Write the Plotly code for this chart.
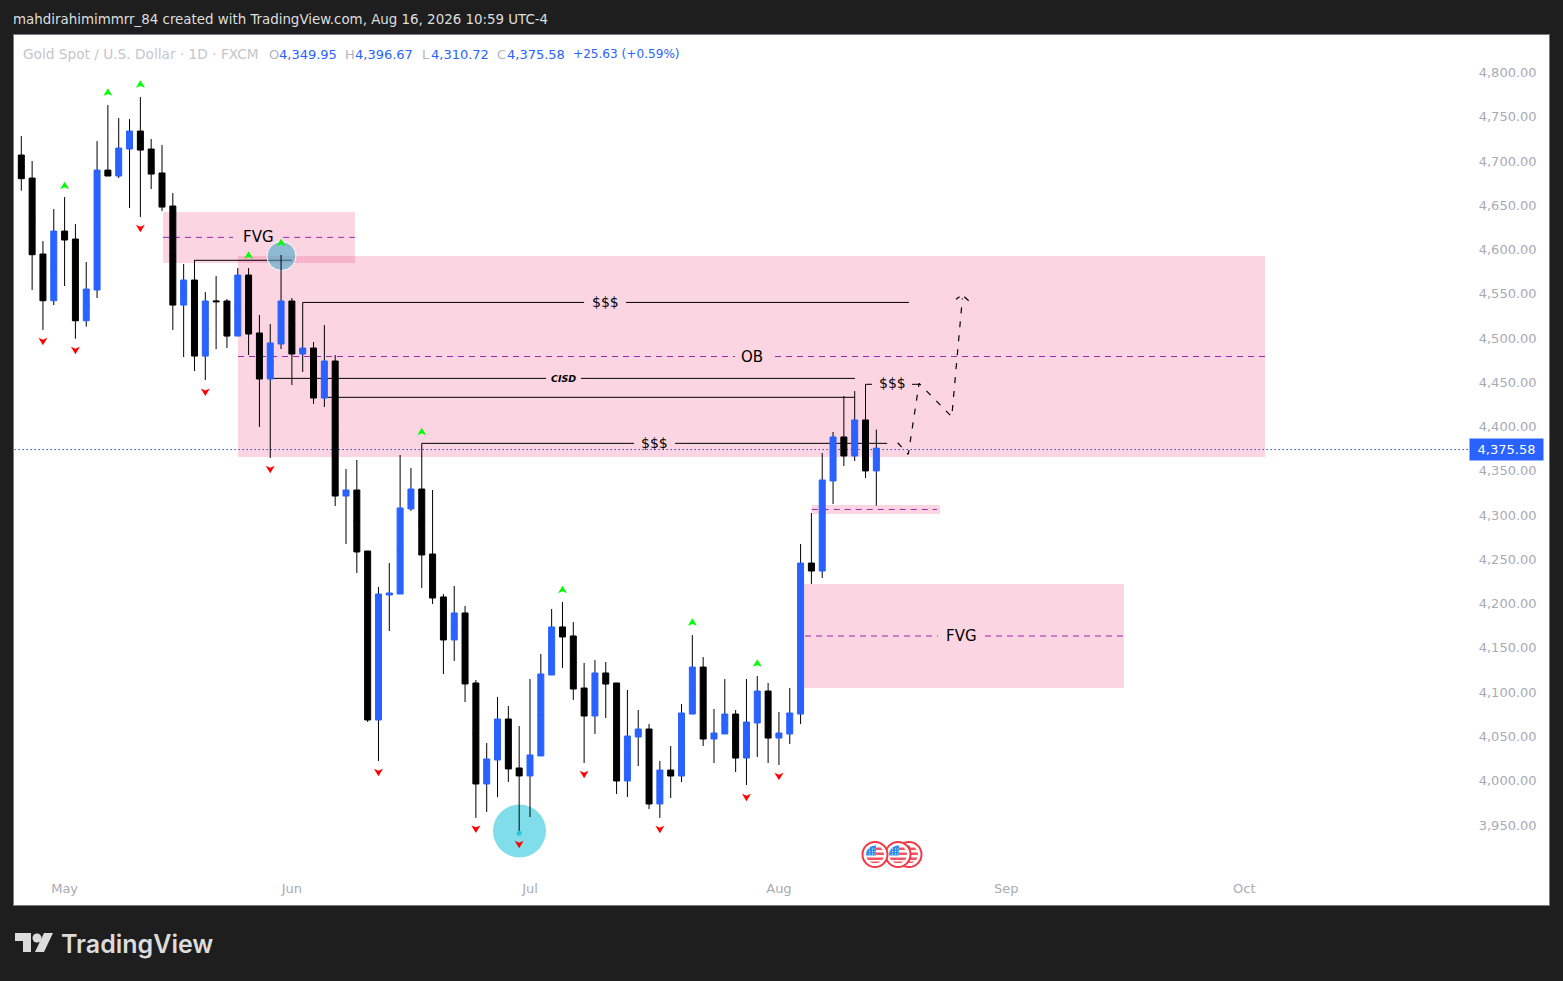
import plotly.graph_objects as go

W, H = 1563, 981

opens = [4689.8, 4706.8, 4680.8, 4595.0, 4542.2, 4620.9, 4611.9, 4519.6, 4554.3, 4689.8,
         4683.1, 4713.6, 4733.9, 4713.6, 4686.5, 4649.2, 4537.3, 4565.6, 4479.7, 4541.9,
         4541.9, 4502.3, 4571.2, 4505.8, 4453.8, 4493.3, 4541.9, 4482.0, 4488.8, 4432.3,
         4474.1, 4321.6, 4328.4, 4259.5, 4068.6, 4209.8, 4210.9, 4307.0, 4329.5, 4256.1,
         4207.6, 4159.0, 4189.5, 4110.4, 3996.3, 4023.4, 4069.7, 4014.4, 4005.4, 4028.0,
         4119.4, 4173.7, 4163.5, 4104.7, 4073.1, 4121.7, 4110.4, 3999.7, 4049.4, 4058.4,
         3973.7, 4012.1, 4005.3, 4075.3, 4128.4, 4047.1, 4052.8, 4075.3, 4025.6, 4065.2,
         4101.3, 4048.2, 4052.8, 4075.3, 4245.9, 4236.9, 4338.6, 4388.3, 4366.8, 4407.5,
         4349.95]
highs = [4722.0, 4728.2, 4700.0, 4609.6, 4645.8, 4659.3, 4628.8, 4585.9, 4722.6, 4763.3,
         4748.6, 4747.4, 4772.3, 4724.9, 4718.1, 4663.9, 4583.7, 4588.2, 4552.0, 4570.1,
         4544.1, 4579.1, 4579.1, 4526.1, 4515.9, 4593.9, 4545.3, 4540.4, 4495.6, 4514.8,
         4480.9, 4352.1, 4362.3, 4259.5, 4218.8, 4246.0, 4368.0, 4353.3, 4381.1, 4328.4,
         4210.9, 4220.0, 4197.4, 4113.8, 4042.6, 4094.6, 4084.4, 4061.8, 4114.9, 4143.2,
         4194.0, 4201.9, 4179.3, 4133.0, 4136.3, 4134.1, 4110.4, 4102.5, 4079.9, 4064.0,
         4022.3, 4039.2, 4086.6, 4164.6, 4139.7, 4081.0, 4114.9, 4079.9, 4114.9, 4118.3,
         4110.4, 4077.6, 4104.7, 4267.4, 4302.4, 4370.2, 4393.9, 4434.6, 4440.2, 4448.1,
         4396.67]
lows = [4672.0, 4666.5, 4554.3, 4509.1, 4537.3, 4558.8, 4499.3, 4512.9, 4545.3, 4683.1,
        4680.8, 4646.9, 4636.7, 4668.4, 4643.5, 4509.1, 4478.6, 4462.8, 4452.6, 4487.6,
        4488.8, 4502.3, 4480.9, 4399.6, 4364.6, 4487.7, 4447.0, 4461.7, 4425.6, 4422.2,
        4310.3, 4267.4, 4234.7, 4066.4, 4022.3, 4169.1, 4210.9, 4304.7, 4217.7, 4199.6,
        4120.6, 4135.3, 4088.9, 3957.9, 3964.7, 3981.6, 3998.6, 3940.6, 3959.0, 4028.0,
        4119.4, 4127.4, 4091.2, 4020.0, 4052.8, 4070.8, 3985.0, 3981.6, 4016.6, 3968.0,
        3957.9, 3980.5, 3998.5, 4075.3, 4039.2, 4020.0, 4052.8, 4009.8, 3995.1, 4026.8,
        4020.0, 4017.7, 4041.5, 4064.0, 4222.2, 4229.0, 4312.6, 4355.5, 4361.1, 4341.9,
        4310.72]
closes = [4706.8, 4680.1, 4594.2, 4542.2, 4620.9, 4610.8, 4519.6, 4555.4, 4689.8, 4683.1,
          4714.7, 4733.9, 4712.4, 4685.3, 4648.0, 4537.3, 4565.6, 4479.7, 4541.9, 4541.1,
          4502.3, 4571.2, 4504.6, 4453.8, 4494.5, 4541.9, 4482.0, 4488.8, 4432.3, 4474.1,
          4321.6, 4328.4, 4258.4, 4068.6, 4210.9, 4212.1, 4308.1, 4329.5, 4255.0, 4206.4,
          4159.0, 4189.5, 4109.3, 3996.3, 4024.6, 4069.7, 4013.3, 4005.4, 4029.1, 4120.6,
          4173.7, 4162.4, 4103.6, 4073.1, 4121.7, 4109.2, 3999.7, 4050.5, 4058.4, 3973.7,
          4012.1, 4005.3, 4076.5, 4128.4, 4047.1, 4053.9, 4075.3, 4025.6, 4066.3, 4101.3,
          4048.2, 4053.9, 4076.5, 4245.9, 4236.9, 4339.7, 4388.3, 4366.8, 4407.5, 4349.95,
          4375.58]
bars = list(range(len(opens)))

month_bars = [5, 26, 48, 71, 92, 114]
month_names = ["May", "Jun", "Jul", "Aug", "Sep", "Oct"]
price_ticks = [3950, 4000, 4050, 4100, 4150, 4200, 4250, 4300, 4350, 4400,
               4450, 4500, 4550, 4600, 4650, 4700, 4750, 4800]
last_close = 4375.58

up_bars = [5, 9, 12, 22, 25, 38, 51, 63, 69]
up_prices = [4672.1, 4777.6, 4786.7, 4593.5, 4607.7, 4394.2, 4215.8, 4178.9, 4132.6]
down_bars = [3, 6, 12, 18, 24, 34, 43, 47, 53, 60, 68, 71]
down_prices = [4496.4, 4486.2, 4624.0, 4439.1, 4351.8, 4009.5, 3945.5, 3928.2,
               4007.2, 3945.1, 3981.3, 4005.0]

# pink zones: left bar, right bar, top price, bottom price
zones = [
    (14.09, 31.83, 4642.4, 4584.8),
    (21.02, 115.91, 4592.7, 4365.7),
    (74.03, 85.88, 4311.4, 4301.3),
    (72.95, 102.88, 4222.2, 4104.7),
]
# dashed mid lines: start bar, end bar, price
mid_lines = [
    (14.09, 20.56, 4613.8), (25.2, 31.83, 4613.8),
    (21.02, 66.94, 4479.2), (70.64, 115.91, 4479.2),
    (74.03, 85.6, 4306.4),
    (73.41, 85.7, 4163.5), (90.04, 102.88, 4163.5),
]
# black level lines: start bar, end bar, price
level_lines = [
    (17, 26.01, 4587.9),
    (27, 53.0, 4540.3), (56.87, 83.02, 4540.3),
    (24, 49.48, 4454.5), (52.71, 78.03, 4454.5),
    (29, 78, 4433.1),
    (38, 57.61, 4381.1), (61.4, 81, 4381.1),
    (79, 79.6, 4447.8), (83.3, 84.04, 4447.8),
]
path_bars = [81.97, 82.95, 83.95, 86.97, 87.95]
path_prices = [4381.8, 4368.7, 4448.9, 4411.2, 4544.9]
head_bars = [87.36, 87.69, None, 88.13, 88.53]
head_prices = [4543.8, 4546.7, None, 4546.7, 4542.2]

labels = [
    ("FVG", 22.92, 4613.8, 15),
    ("$$$", 54.93, 4540.3, 14),
    ("OB", 68.52, 4479.2, 15),
    ("<b><i>CISD</i></b>", 51.1, 4454.5, 9.5),
    ("$$$", 81.45, 4449.0, 14),
    ("$$$", 59.46, 4381.1, 14),
    ("FVG", 87.83, 4163.5, 15),
]

legend_parts = [
    ("O", 269, "#b2b5be", 13), ("4,349.95", 279, "#2962ff", 13),
    ("H", 345, "#b2b5be", 13), ("4,396.67", 355, "#2962ff", 13),
    ("L", 422, "#b2b5be", 13), ("4,310.72", 431, "#2962ff", 13),
    ("C", 497, "#b2b5be", 13), ("4,375.58", 507, "#2962ff", 13),
    ("+25.63 (+0.59%)", 573, "#2962ff", 12.1),
]

DARK = "#1e1e1e"
FONT = "DejaVu Sans"
GRAY = "#a8abb4"
PINK = "rgba(233,30,99,0.19)"
PURPLE = "#9c27b0"


def px(x):
    return x / W


def py(y):
    return 1 - y / H


def poly(points):
    return "M " + " L ".join(f"{px(x):.5f},{py(y):.5f}" for x, y in points) + " Z"


def chrome_shape(points, color):
    return dict(type="path", xref="paper", yref="paper", path=poly(points),
                fillcolor=color, line=dict(width=0), layer="above")


def chevron(bar, price, path, color):
    return dict(type="path", xref="x", yref="y", xsizemode="pixel", ysizemode="pixel",
                xanchor=bar, yanchor=price, path=path,
                fillcolor=color, line=dict(width=0), layer="above")


def flag_shapes(cx, cy):
    r = 12.5
    out = [dict(type="circle", xref="paper", yref="paper", layer="above",
                x0=px(cx - r), x1=px(cx + r), y0=py(cy + r), y1=py(cy - r),
                fillcolor="#ffffff", line=dict(color="#f23645", width=2))]
    inner = 9.0

    def half(dy):
        return max(inner ** 2 - dy ** 2, 0) ** 0.5

    # red stripes
    for top, bottom, left in [(-7, -4.5, 1), (-2, 0.5, 1), (3, 5.5, -9), (7, 8.5, -9)]:
        out.append(chrome_shape(
            [(max(cx + left, cx - half(top)), cy + top), (cx + half(top), cy + top),
             (cx + half(bottom), cy + bottom), (max(cx + left, cx - half(bottom)), cy + bottom)],
            "#f7525f"))
    # blue corner
    corner = [(cx + 1, cy + 1), (cx - half(1), cy + 1), (cx - 8.6, cy - 2.5),
              (cx - 7, cy - 5.6), (cx - 4.5, cy - 7.8), (cx - 1, cy - 8.9), (cx + 1, cy - 8.9)]
    out.append(chrome_shape(corner, "#2f8fe8"))
    for dx in (-6, -3, -0.5):
        for dy in (-6, -3.5, -1):
            out.append(chrome_shape(
                [(cx + dx, cy + dy), (cx + dx + 1, cy + dy), (cx + dx + 1, cy + dy + 1),
                 (cx + dx, cy + dy + 1)], "#e6f1fc"))
    return out


fig = go.Figure()

# wick layer: its flat body sits mid candle, hidden under the body layer
mids = [(a + b) / 2 for a, b in zip(opens, closes)]
fig.add_trace(go.Candlestick(
    x=bars, open=mids, high=highs, low=lows, close=mids, whiskerwidth=0,
    increasing=dict(line=dict(color="#000000", width=1), fillcolor="#000000"),
    decreasing=dict(line=dict(color="#000000", width=1), fillcolor="#000000"),
    showlegend=False,
))
fig.add_trace(go.Candlestick(
    x=bars, open=opens, close=closes,
    high=[max(a, b) for a, b in zip(opens, closes)],
    low=[min(a, b) for a, b in zip(opens, closes)],
    whiskerwidth=0,
    increasing=dict(line=dict(color="#2962ff", width=1), fillcolor="#2962ff"),
    decreasing=dict(line=dict(color="#000000", width=1), fillcolor="#000000"),
    showlegend=False,
))

fig.add_trace(go.Scatter(
    x=[47], y=[3940.6], mode="markers", showlegend=False,
    marker=dict(color="#26c6da", size=5),
))
fig.add_trace(go.Scatter(
    x=path_bars, y=path_prices, mode="lines", showlegend=False,
    line=dict(color="#000000", width=1.2, dash="6px,8px"),
))
fig.add_trace(go.Scatter(
    x=head_bars, y=head_prices, mode="lines", showlegend=False, connectgaps=False,
    line=dict(color="#000000", width=1.2),
))

shapes = []
for x0, x1, top, bottom in zones:
    shapes.append(dict(type="rect", xref="x", yref="y", x0=x0, x1=x1, y0=bottom, y1=top,
                       fillcolor=PINK, line=dict(width=0), layer="below"))
shapes.append(dict(type="line", xref="x", yref="y", ysizemode="pixel", yanchor=last_close,
                   x0=0, x1=134.9, y0=-1.3, y1=-1.3,
                   line=dict(color="#1e4fe0", width=1, dash="1.5px,2.5px"), layer="below"))
for x0, x1, price in mid_lines:
    shapes.append(dict(type="line", xref="x", yref="y", x0=x0, x1=x1, y0=price, y1=price,
                       line=dict(color=PURPLE, width=1, dash="6px,5px"), layer="below"))
for x0, x1, price in level_lines:
    shapes.append(dict(type="line", xref="x", yref="y", x0=x0, x1=x1, y0=price, y1=price,
                       line=dict(color="#000000", width=1), layer="below"))
# highlight circles
shapes.append(dict(type="circle", xref="x", yref="y", x0=44.58, x1=49.48, y0=3913.3, y1=3973.1,
                   fillcolor="#80deea", line=dict(width=0), layer="below"))
shapes.append(dict(type="circle", xref="x", yref="y", x0=23.7, x1=26.38, y0=4576.3, y1=4609.1,
                   fillcolor="rgba(70,170,200,0.6)", line=dict(color="#ffffff", width=1),
                   layer="below"))

# arrow marks above and below the swing bars
for bar, price in zip(up_bars, up_prices):
    shapes.append(chevron(bar, price, "M 0,4 L 4.5,-3.5 L 0,-1.6 L -4.5,-3.5 Z", "#00ff00"))
for bar, price in zip(down_bars, down_prices):
    shapes.append(chevron(bar, price, "M 0,-4 L 4.5,3.5 L 0,1.6 L -4.5,3.5 Z", "#ff0000"))

# news flags, back to front
for cx in (909, 898, 875):
    shapes += flag_shapes(cx, 854.5)

# TradingView logo
shapes.append(chrome_shape([(15, 933), (31, 933), (31, 952), (23, 952), (23, 941), (15, 941)], "#dcdcdc"))
shapes.append(dict(type="circle", xref="paper", yref="paper", x0=px(32.5), x1=px(41.5),
                   y0=py(942.5), y1=py(933.5), fillcolor="#dcdcdc", line=dict(width=0), layer="above"))
shapes.append(chrome_shape([(44, 933), (53, 933), (44, 952), (35, 952)], "#dcdcdc"))

annotations = []
for text, bar, price, size in labels:
    annotations.append(dict(x=bar, y=price, xref="x", yref="y", text=text, showarrow=False,
                            font=dict(family=FONT, size=size, color="#000000")))


def chrome_text(text, x, y, size, color, family=FONT, weight="normal"):
    annotations.append(dict(x=px(x - 2), y=py(y), xref="paper", yref="paper", text=text,
                            showarrow=False, xanchor="left", yanchor="middle",
                            font=dict(family=family, size=size, color=color, weight=weight)))


chrome_text("mahdirahimimmrr_84 created with TradingView.com, Aug 16, 2026 10:59 UTC-4",
            13, 19, 14.9, "#dedede", "DejaVu Sans Condensed")
chrome_text("Gold Spot / U.S. Dollar · 1D · FXCM", 23, 54, 13.7, "#c4c6cc")
for text, x, color, size in legend_parts:
    chrome_text(text, x, 54, size, color)
chrome_text("TradingView", 61, 944, 25, "#dcdcdc", "Inter", 600)

annotations.append(dict(x=px(1544), y=last_close, xref="paper", yref="y", yshift=-1,
                        text="4,375.58", showarrow=False, xanchor="right", yanchor="middle",
                        width=71, height=19, align="center", bgcolor="#2962ff",
                        font=dict(family=FONT, size=13, color="#ffffff")))

fig.update_layout(
    width=W, height=H,
    margin=dict(l=0, r=0, t=0, b=0),
    paper_bgcolor=DARK, plot_bgcolor="#ffffff",
    boxmode="overlay", boxgap=0.446, boxgroupgap=0,
    showlegend=False,
    shapes=shapes, annotations=annotations,
    xaxis=dict(
        domain=[px(14), px(1549)], range=[0.325, 142.15],
        rangeslider=dict(visible=False),
        tickmode="array", tickvals=month_bars, ticktext=month_names,
        ticks="", showgrid=False, zeroline=False,
        ticklabelposition="inside", ticklabelstandoff=9,
        tickfont=dict(family=FONT, size=13, color=GRAY),
        showline=True, mirror=True, linecolor="#787b86", linewidth=1,
    ),
    yaxis=dict(
        domain=[py(905), py(35)], range=[3859.6, 4842.4],
        side="right", tickmode="array", tickvals=price_ticks, tickformat=",.2f",
        ticks="", showgrid=False, zeroline=False,
        ticklabelposition="inside", ticklabelstandoff=12,
        tickfont=dict(family=FONT, size=13, color=GRAY),
        showline=True, mirror=True, linecolor="#787b86", linewidth=1,
    ),
)

fig.write_html(
    "out.html",
    config={"displayModeBar": False},
    post_script="document.body.style.margin='0';document.body.style.background='#1e1e1e';document.documentElement.style.overflow='hidden';",
)
